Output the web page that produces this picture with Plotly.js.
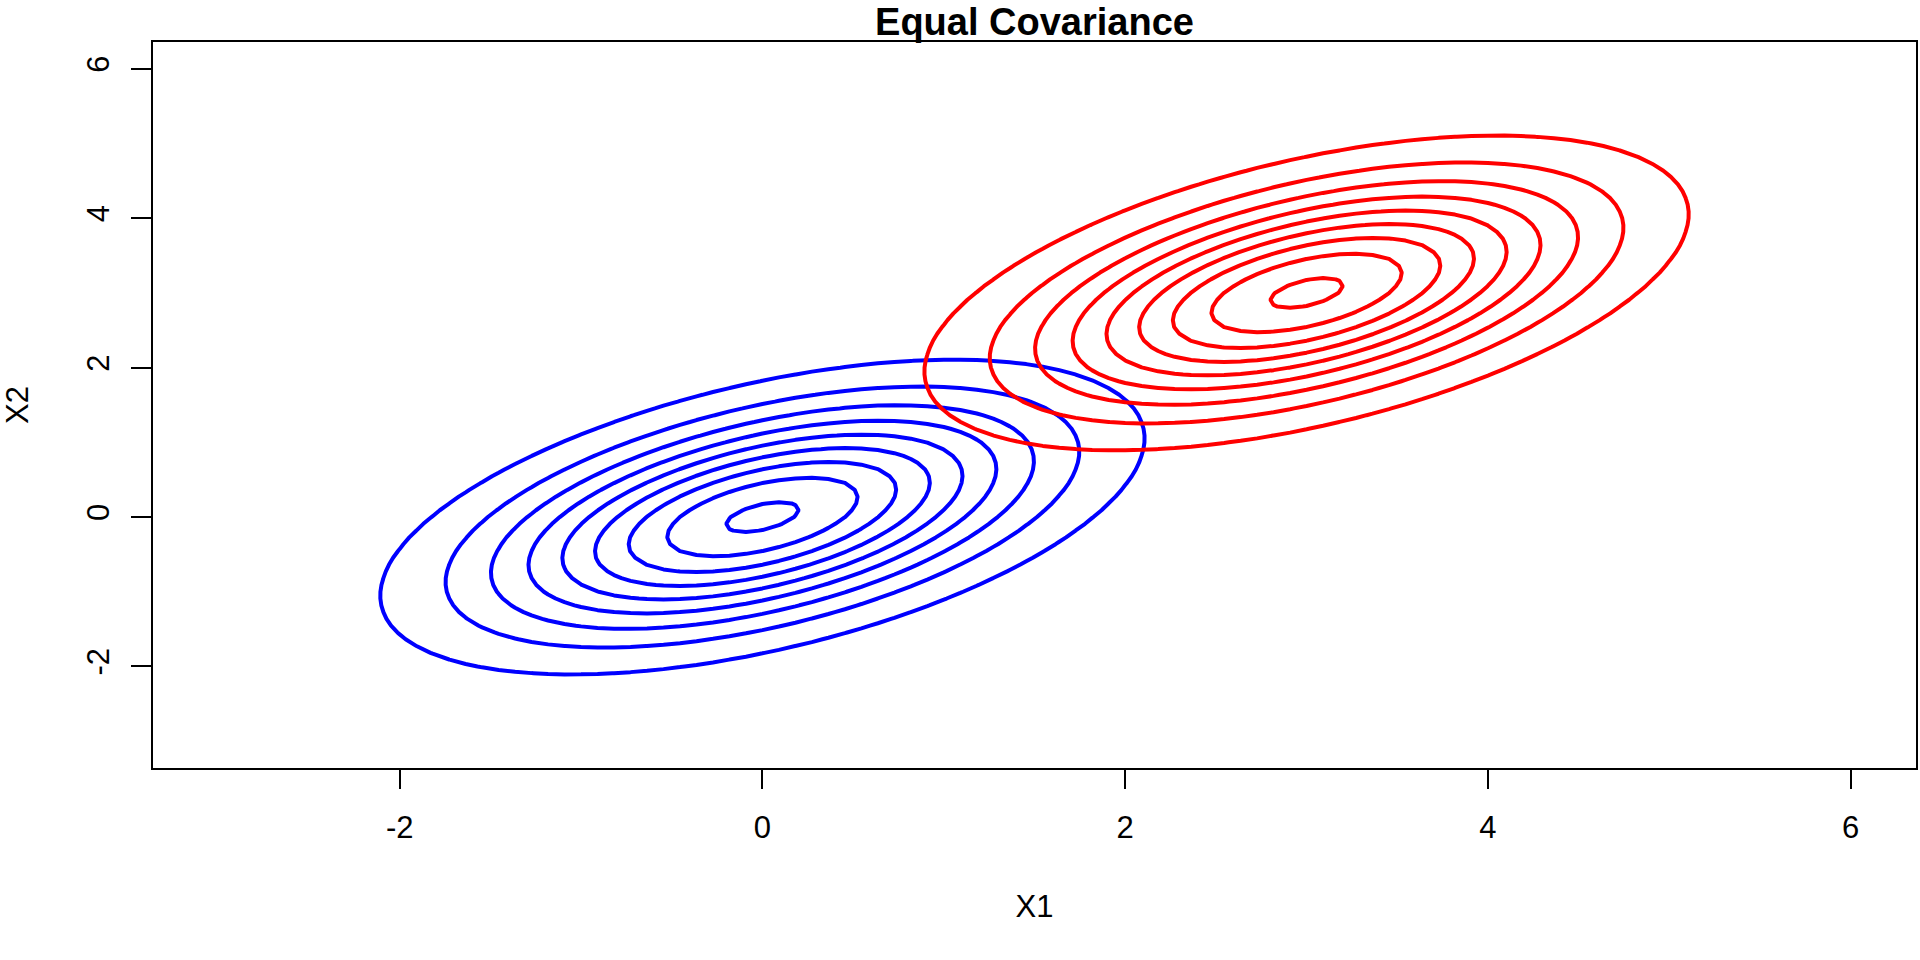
<!DOCTYPE html>
<html>
<head>
<meta charset="utf-8">
<script src="https://cdn.plot.ly/plotly-3.0.1.min.js"></script>
<style>
  html, body { margin: 0; padding: 0; background: #ffffff; }
  #chart { width: 1920px; height: 960px; }
</style>
</head>
<body>
<div id="chart"></div>
<script>
// ---- Data ----
const chartTitle = "Equal Covariance";
const xLabel = "X1";
const yLabel = "X2";
const meanBlue = [0, 0];
const meanRed = [3, 3];
const covariance = [[1, 0.5], [0.5, 1]];
const contourLevels = [0.02, 0.04, 0.06, 0.08, 0.10, 0.12, 0.14, 0.16, 0.18];
const gridRange = [-3, 6];
const gridCount = 100;
const xTickVals = [-2, 0, 2, 4, 6];
const yTickVals = [-2, 0, 2, 4, 6];
const seriesColors = ["#0000ff", "#ff0000"];

// ---- Density surface on the grid (bivariate normal) ----
const gridX = [];
for (let i = 0; i < gridCount; i++) gridX.push(gridRange[0] + (gridRange[1] - gridRange[0]) * i / (gridCount - 1));
const gridY = gridX.slice();

function densityGrid(mu) {
  const a = covariance[0][0], b = covariance[0][1], d = covariance[1][1];
  const det = a * d - b * b;
  const norm = 1 / (2 * Math.PI * Math.sqrt(det));
  const z = [];
  for (let j = 0; j < gridY.length; j++) {
    const row = [];
    for (let i = 0; i < gridX.length; i++) {
      const dx = gridX[i] - mu[0], dy = gridY[j] - mu[1];
      const q = (d * dx * dx - 2 * b * dx * dy + a * dy * dy) / det;
      row.push(norm * Math.exp(-q / 2));
    }
    z.push(row);
  }
  return z;
}

function contourTrace(mu, color) {
  return {
    type: "contour",
    x: gridX, y: gridY, z: densityGrid(mu),
    autocontour: false,
    contours: {
      coloring: "lines",
      showlabels: false,
      start: contourLevels[0],
      end: contourLevels[contourLevels.length - 1],
      size: contourLevels[1] - contourLevels[0]
    },
    colorscale: [[0, color], [1, color]],
    showscale: false,
    line: { width: 4, smoothing: 0 },
    hoverinfo: "skip"
  };
}

const data = [contourTrace(meanBlue, seriesColors[0]), contourTrace(meanRed, seriesColors[1])];

const fontFam = "Liberation Sans, Arial, Helvetica, sans-serif";
const layout = {
  width: 1920, height: 960,
  paper_bgcolor: "#ffffff", plot_bgcolor: "#ffffff",
  margin: { l: 153, r: 4, t: 42, b: 192, pad: 0 },
  showlegend: false,
  font: { family: fontFam, color: "#000000", size: 31 },
  title: {
    text: chartTitle,
    font: { family: fontFam, size: 38, weight: "bold", color: "#000000" },
    x: 0.5, xref: "paper", xanchor: "center",
    y: 1 - 22 / 960, yref: "container", yanchor: "middle"
  },
  xaxis: {
    range: [-3.36, 6.36],
    tickvals: xTickVals,
    ticktext: xTickVals.map(v => v < 0 ? "-" + Math.abs(v) : String(v)),
    ticks: "outside", ticklen: 19, tickwidth: 2, tickcolor: "#000000",
    showline: true, mirror: true, linecolor: "#000000", linewidth: 2,
    showgrid: false, zeroline: false,
    tickfont: { family: fontFam, size: 31, color: "#000000" },
    ticklabelstandoff: 12,
    title: { text: xLabel, font: { family: fontFam, size: 31, color: "#000000" }, standoff: 51 },
    automargin: false, fixedrange: true
  },
  yaxis: {
    range: [-3.36, 6.36],
    tickvals: yTickVals,
    ticktext: yTickVals.map(v => v < 0 ? "-" + Math.abs(v) : String(v)),
    tickangle: -90,
    ticks: "outside", ticklen: 20, tickwidth: 2, tickcolor: "#000000",
    showline: true, mirror: true, linecolor: "#000000", linewidth: 2,
    showgrid: false, zeroline: false,
    tickfont: { family: fontFam, size: 31, color: "#000000" },
    ticklabelstandoff: 10,
    title: { text: yLabel, font: { family: fontFam, size: 31, color: "#000000" }, standoff: 47 },
    automargin: false, fixedrange: true
  }
};

Plotly.newPlot("chart", data, layout, { staticPlot: true, displayModeBar: false });
</script>
</body>
</html>
